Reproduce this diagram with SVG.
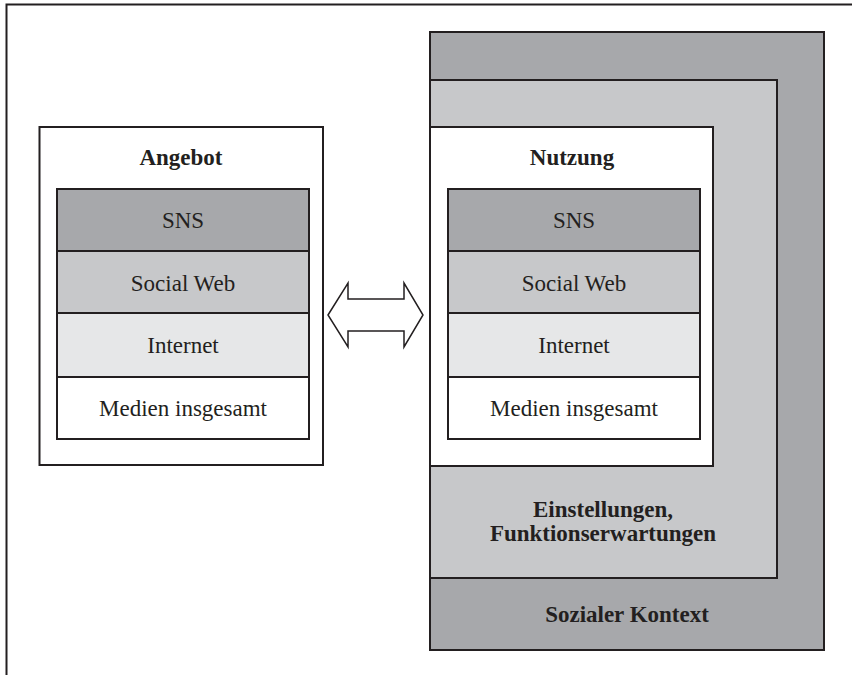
<svg xmlns="http://www.w3.org/2000/svg" width="852" height="675" viewBox="0 0 852 675">
  <style>
    .box { stroke: #231f20; stroke-width: 2; }
    .dark { fill: #a7a8ab; }
    .mid { fill: #c7c8ca; }
    .light { fill: #e6e7e8; }
    .white { fill: #ffffff; }
    .lbl { font-family: "Liberation Serif", "Times New Roman", serif; font-size: 23px; fill: #231f20; text-anchor: middle; }
    .hdr { font-weight: bold; }
  </style>
  <rect width="852" height="675" fill="#ffffff"/>

  <!-- page frame -->
  <path d="M852 4.5 H6.5 V675" fill="none" stroke="#231f20" stroke-width="2"/>

  <!-- left: Angebot -->
  <g id="angebot">
    <rect class="box white" x="39.5" y="127" width="283.5" height="338"/>
    <text class="lbl hdr" x="181" y="165">Angebot</text>
    <g id="angebot-stack">
      <rect class="box dark" x="57" y="189" width="252" height="62"/>
      <text class="lbl" x="183" y="228">SNS</text>
      <rect class="box mid" x="57" y="251" width="252" height="62"/>
      <text class="lbl" x="183" y="291">Social Web</text>
      <rect class="box light" x="57" y="313" width="252" height="64"/>
      <text class="lbl" x="183" y="353">Internet</text>
      <rect class="box white" x="57" y="377" width="252" height="62"/>
      <text class="lbl" x="183" y="416">Medien insgesamt</text>
    </g>
  </g>

  <!-- right: nested context frames -->
  <g id="sozialer-kontext">
    <rect class="box dark" x="430" y="32" width="394" height="618"/>
    <text class="lbl hdr" x="627" y="622">Sozialer Kontext</text>
  </g>
  <g id="einstellungen">
    <rect class="box mid" x="430" y="80" width="347" height="498"/>
    <text class="lbl hdr" x="603" y="517">Einstellungen,</text>
    <text class="lbl hdr" x="603" y="541">Funktionserwartungen</text>
  </g>
  <g id="nutzung">
    <rect class="box white" x="430" y="127" width="283" height="339"/>
    <text class="lbl hdr" x="572" y="165">Nutzung</text>
    <g id="nutzung-stack">
      <rect class="box dark" x="448" y="189" width="252" height="62"/>
      <text class="lbl" x="574" y="228">SNS</text>
      <rect class="box mid" x="448" y="251" width="252" height="62"/>
      <text class="lbl" x="574" y="291">Social Web</text>
      <rect class="box light" x="448" y="313" width="252" height="64"/>
      <text class="lbl" x="574" y="353">Internet</text>
      <rect class="box white" x="448" y="377" width="252" height="62"/>
      <text class="lbl" x="574" y="416">Medien insgesamt</text>
    </g>
  </g>

  <!-- connectors -->
  <g id="connectors">
    <path d="M328 315 L348 283 V299 H404 V283 L423 315 L404 347 V331 H348 V347 Z" fill="#ffffff" stroke="#231f20" stroke-width="1.5" stroke-linejoin="miter"/>
  </g>
</svg>
